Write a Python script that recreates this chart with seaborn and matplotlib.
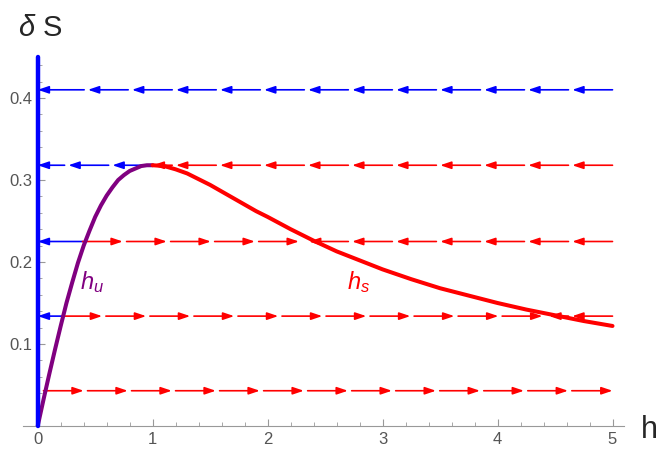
import numpy as np
import pandas as pd
import matplotlib
matplotlib.use("Agg")
import matplotlib.pyplot as plt
from matplotlib.ticker import MultipleLocator
import seaborn as sns

# h_u branch (rising part up to the peak)
hu_h = [0.0, 0.05, 0.1, 0.15, 0.2, 0.25, 0.3, 0.35, 0.4, 0.45, 0.5, 0.55, 0.6,
        0.65, 0.7, 0.75, 0.8, 0.85, 0.9, 0.95, 1.0]
hu_val = [0.0, 0.032, 0.063, 0.093, 0.122, 0.150, 0.175, 0.199, 0.220, 0.238,
          0.255, 0.269, 0.281, 0.291, 0.300, 0.306, 0.311, 0.314, 0.317, 0.318, 0.318]

# h_s branch (falling part after the peak)
hs_h = [1.0, 1.1, 1.2, 1.3, 1.4, 1.5, 1.6, 1.7, 1.8, 1.9, 2.0, 2.2, 2.4, 2.6,
        2.8, 3.0, 3.25, 3.5, 3.75, 4.0, 4.25, 4.5, 4.75, 5.0]
hs_val = [0.318, 0.317, 0.313, 0.308, 0.301, 0.294, 0.286, 0.278, 0.270, 0.262,
          0.255, 0.240, 0.226, 0.213, 0.202, 0.191, 0.179, 0.168, 0.159, 0.150,
          0.142, 0.135, 0.128, 0.122]

# flow lines: level, where the stream starts (upstream) and where it ends
stream_y = [0.410, 0.318, 0.318, 0.225, 0.225, 0.225, 0.134, 0.134, 0.134, 0.043]
stream_from = [5.0, 1.0, 5.0, 0.39, 0.39, 5.0, 0.21, 0.21, 5.0, 0.05]
stream_to = [0.0, 0.0, 1.0, 0.0, 2.36, 2.36, 0.0, 4.45, 4.45, 5.0]
stream_col = ["blue", "blue", "red", "blue", "red", "red", "blue", "red", "red", "red"]

x_ticks = [0, 1, 2, 3, 4, 5]
y_ticks = [0.1, 0.2, 0.3, 0.4]

PURPLE = "#800080"
AXIS_GRAY = "#999999"
LABEL_GRAY = "#555555"

sns.set_style("white")
plt.rcParams["font.family"] = ["Liberation Sans", "DejaVu Sans"]
plt.rcParams["mathtext.fontset"] = "custom"
plt.rcParams["mathtext.it"] = "Liberation Sans:italic"
plt.rcParams["mathtext.rm"] = "Liberation Sans"

fig = plt.figure(figsize=(6.59, 4.51), dpi=100)
ax = fig.add_axes([23 / 659, 1 - 426 / 451, 601 / 659, 369 / 451])
ax.set_xlim(-0.128, 5.10)
ax.set_ylim(0, 0.45)

# invariant line h = 0
ax.axvline(0, color="blue", lw=3.2, zorder=4, clip_on=False)

# arrows along each flow line
step, seg = 0.383, 0.35
for y, a, b, c in zip(stream_y, stream_from, stream_to, stream_col):
    length = abs(b - a)
    s = np.sign(b - a)
    k = 0
    while k * step < length - 0.06:
        tail = a + s * k * step
        head = a + s * min(k * step + seg, length)
        if k * step + seg > length - 0.06:
            head = b  # stretch the last piece to the end of the stream
        ax.annotate("", xy=(head, y), xytext=(tail, y),
                    arrowprops=dict(arrowstyle="-|>,head_length=0.65,head_width=0.22",
                                    mutation_scale=10, lw=1.2, color=c,
                                    shrinkA=0, shrinkB=0), zorder=2)
        k += 1

# the two branches of the curve
df_u = pd.DataFrame({"h": hu_h, "dS": hu_val})
df_s = pd.DataFrame({"h": hs_h, "dS": hs_val})
sns.lineplot(data=df_u, x="h", y="dS", color=PURPLE, lw=2.9, sort=False, ax=ax, zorder=3)
sns.lineplot(data=df_s, x="h", y="dS", color="red", lw=2.9, sort=False, ax=ax, zorder=3)

ax.text(0.37, 0.167, "$h_u$", color=PURPLE, fontsize=17)
ax.text(2.69, 0.167, "$h_s$", color="red", fontsize=17)

# Mathematica-like axes crossing at the origin
for side in ["top", "right"]:
    ax.spines[side].set_visible(False)
ax.spines["left"].set_position(("data", 0))
ax.spines["left"].set_color(AXIS_GRAY)
ax.spines["bottom"].set_color(AXIS_GRAY)
ax.set_xticks(x_ticks)
ax.set_yticks(y_ticks)
ax.set_xticklabels([str(t) for t in x_ticks])
ax.set_yticklabels([f"{t:.1f}" for t in y_ticks])
ax.xaxis.set_minor_locator(MultipleLocator(0.2))
ax.yaxis.set_minor_locator(MultipleLocator(0.02))
ax.tick_params(which="both", direction="in", color=AXIS_GRAY, labelcolor=LABEL_GRAY,
               labelsize=12, bottom=True, left=True)
ax.tick_params(which="major", length=5, pad=4)
ax.tick_params(which="minor", length=3)
ax.set_xlabel("")
ax.set_ylabel("")

fig.text(40 / 659, 1 - 28 / 451, r"$\delta$ S", fontsize=21, ha="center", va="center")
fig.text(649 / 659, 1 - 430 / 451, "h", fontsize=22, ha="center", va="center")

fig.savefig("out.png", dpi=100)
